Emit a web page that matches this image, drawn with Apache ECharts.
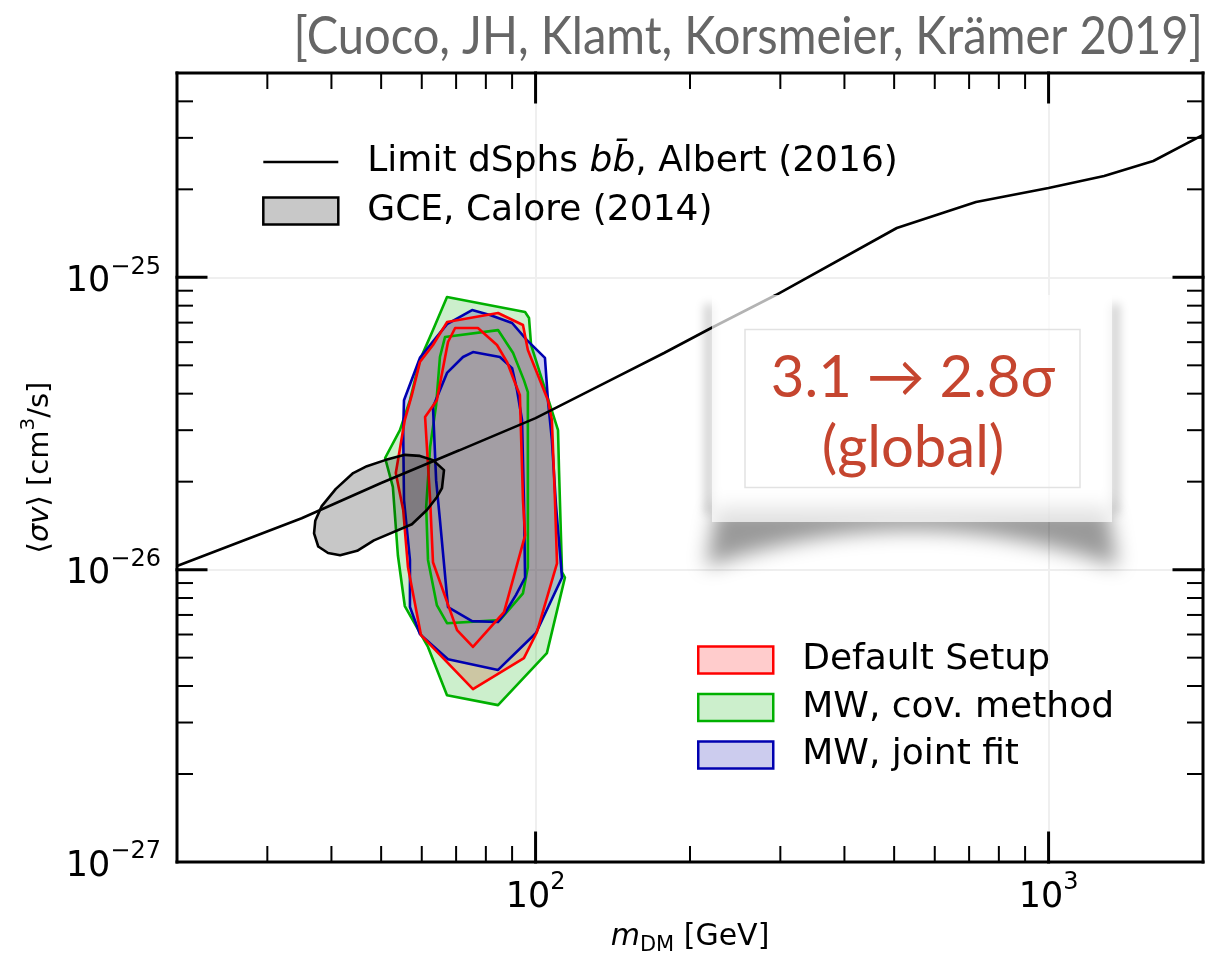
<!DOCTYPE html>
<html>
<head>
<meta charset="utf-8">
<script src="https://cdn.jsdelivr.net/npm/echarts@6/dist/echarts.min.js"></script>
<style>
  html, body { margin: 0; padding: 0; background: #ffffff; }
  #chart { width: 1205px; height: 953px; }
</style>
</head>
<body>
<div id="chart"></div>
<script>
// All <sigma v> values on this chart are given in units of 1e-26 cm^3/s;
// the tick labels convert them back to powers of ten.
const SV_EXP = -26;

// ---- axis ranges ----------------------------------------------------------
const X_MIN = 20, X_MAX = 2000;          // m_DM [GeV]
const Y_MIN = 0.1, Y_MAX = 50;           // <sigma v> [1e-26 cm^3/s]

// ---- ticks ----------------------------------------------------------------
const xMajorTicks = [100, 1000];
const xMinorTicks = [30, 40, 50, 60, 70, 80, 90, 200, 300, 400, 500, 600, 700, 800, 900];
const yMajorTicks = [1, 10];
const yMinorTicks = [0.2, 0.3, 0.4, 0.5, 0.6, 0.7, 0.8, 0.9,
                     2, 3, 4, 5, 6, 7, 8, 9,
                     20, 30, 40];

// ---- dSph upper limit, b bbar (Albert 2016): [m_DM, <sigma v>] -------------
const limitDSphs = [[20, 1.03], [35, 1.50], [50, 1.98], [71, 2.56], [100, 3.30], [140, 4.45],
                    [178, 5.51], [220, 6.71], [294, 8.70], [506, 14.75], [722, 18.1],
                    [1000, 20.2], [1283, 22.2], [1600, 25.0], [2000, 30.7]];

// ---- GCE region (Calore 2014) ---------------------------------------------
const gceCalore = [[50.9, 2.37], [55.6, 2.47], [59.5, 2.45], [63.1, 2.37], [66.3, 2.19],
                   [65.7, 1.90], [64.2, 1.77], [61.4, 1.60], [57.4, 1.43], [48.4, 1.26],
                   [44.9, 1.16], [41.6, 1.12], [39.4, 1.14], [37.7, 1.20], [37.0, 1.33],
                   [37.2, 1.47], [38.3, 1.65], [40.8, 1.89], [44.1, 2.14], [46.9, 2.26]];

// ---- fit contours: outer (2 sigma) and inner (1 sigma) ----------------------
const defaultOuter = [[67.2, 7.03], [84.5, 7.55], [94.5, 6.87], [96.6, 5.64], [105.7, 3.80],
                      [107.6, 3.25], [109.1, 1.73], [110.1, 1.05], [100.6, 0.611], [94.9, 0.498],
                      [75.5, 0.390], [59.8, 0.597], [56.4, 1.02], [55.2, 1.60], [53.4, 2.14],
                      [55.6, 3.25], [57.4, 3.96], [59.5, 5.13], [63.1, 5.87]];
const defaultInner = [[69.7, 6.71], [77.2, 6.71], [84.1, 5.87], [88.0, 5.13], [91.2, 4.35],
                      [93.2, 3.96], [94.5, 1.73], [95.4, 1.31], [86.8, 0.716], [75.5, 0.544],
                      [70.3, 0.621], [63.1, 1.06], [62.3, 1.73], [60.9, 3.33], [64.2, 3.80],
                      [67.5, 6.01]];

const covOuter = [[67.2, 8.56], [95.4, 7.61], [97.1, 7.26], [98.0, 5.87], [106.7, 3.66],
                  [110.6, 3.00], [111.1, 2.19], [112.6, 0.98], [114.1, 0.94], [105.2, 0.518],
                  [84.5, 0.344], [67.2, 0.372], [61.7, 0.544], [55.6, 0.751], [53.9, 1.12],
                  [52.7, 1.92], [50.9, 2.41], [54.4, 3.00], [56.9, 3.80], [59.5, 5.21],
                  [63.1, 6.60]];
const covInner = [[66.6, 6.25], [84.5, 6.60], [90.4, 5.51], [94.9, 4.45], [96.6, 4.05],
                  [96.6, 1.66], [96.6, 1.02], [94.5, 0.83], [85.2, 0.672], [67.2, 0.656],
                  [64.2, 0.757], [61.7, 1.08], [61.2, 1.64], [62.3, 2.63], [64.0, 3.66],
                  [65.1, 5.34]];

const jointOuter = [[75.2, 7.73], [81.5, 7.43], [90.0, 6.98], [96.2, 6.10], [104.3, 5.30],
                    [105.7, 3.80], [107.6, 2.78], [109.6, 1.66], [112.6, 0.94], [100.2, 0.607],
                    [84.5, 0.454], [67.5, 0.494], [59.5, 0.602], [56.9, 0.745], [56.9, 1.08],
                    [55.4, 1.73], [55.2, 3.00], [55.4, 3.80], [59.5, 5.30], [67.2, 6.92]];
const jointInner = [[75.5, 5.55], [85.2, 5.34], [90.0, 4.89], [92.0, 4.12], [94.1, 3.25],
                    [94.9, 1.73], [95.4, 0.94], [91.6, 0.82], [87.2, 0.711], [84.5, 0.662],
                    [75.2, 0.667], [67.5, 0.745], [65.1, 1.48], [64.0, 2.02], [63.1, 3.60],
                    [67.2, 4.71], [72.2, 5.34]];

// ---- names -----------------------------------------------------------------
const LIMIT_NAME = 'Limit dSphs bb\u0304, Albert (2016)';
const GCE_NAME = 'GCE, Calore (2014)';
const DEFAULT_NAME = 'Default Setup';
const COV_NAME = 'MW, cov. method';
const JOINT_NAME = 'MW, joint fit';

const FONT = '"DejaVu Sans", sans-serif';
const SLIDE_FONT = 'Lato, "Noto Sans", "DejaVu Sans", sans-serif';

function contourSeries(name, stroke, fill, outer, inner, lineZ) {
  return {
    type: 'custom', name: name, coordinateSystem: 'cartesian2d', z: 2,
    silent: true, animation: false,
    data: outer,
    itemStyle: { color: fill, borderColor: stroke, borderWidth: 2.5 },
    renderItem: function (params, api) {
      if (params.dataIndex !== 0) return null;
      const o = outer.map(p => api.coord(p));
      const i = inner.map(p => api.coord(p));
      return {
        type: 'group',
        children: [
          { type: 'polygon', z2: 1, shape: { points: o }, style: { fill: fill, stroke: null } },
          { type: 'polygon', z2: lineZ, shape: { points: o },
            style: { fill: null, stroke: stroke, lineWidth: 2.6, lineJoin: 'round' } },
          { type: 'polygon', z2: lineZ, shape: { points: i },
            style: { fill: null, stroke: stroke, lineWidth: 2.6, lineJoin: 'round' } }
        ]
      };
    }
  };
}

function powLabel(exponentShift) {
  return function (v) {
    const e = Math.round(Math.log10(v)) + exponentShift;
    const s = e < 0 ? '\u2212' + (-e) : String(e);
    return '{b|10}{e|' + s + '}';
  };
}
const powRich = {
  b: { fontFamily: FONT, fontSize: 35, lineHeight: 44, verticalAlign: 'bottom', color: '#000' },
  e: { fontFamily: FONT, fontSize: 24, lineHeight: 24, verticalAlign: 'top', color: '#000' }
};

const chart = echarts.init(document.getElementById('chart'), null, { renderer: 'canvas' });

const option = {
  animation: false,
  backgroundColor: '#ffffff',
  grid: {
    left: 177, top: 73, right: 2, bottom: 91,
    show: false, containLabel: false, outerBoundsMode: 'none'
  },
  xAxis: {
    type: 'log', logBase: 10, min: X_MIN, max: X_MAX,
    axisLine: { show: false }, axisTick: { show: false },
    splitLine: { show: true, showMinLine: false, showMaxLine: false,
                 lineStyle: { color: '#efefef', width: 2 } },
    axisLabel: {
      margin: 9, formatter: powLabel(0), rich: powRich,
      showMinLabel: false, showMaxLabel: false
    },
    name: '{i|m}{sub|DM}{t| [GeV]}', nameLocation: 'middle', nameGap: 60,
    nameMoveOverlap: false,
    nameTextStyle: {
      rich: {
        i: { fontFamily: FONT, fontStyle: 'italic', fontSize: 30, lineHeight: 34, verticalAlign: 'top', color: '#000' },
        sub: { fontFamily: FONT, fontSize: 21, lineHeight: 22, verticalAlign: 'bottom', color: '#000' },
        t: { fontFamily: FONT, fontSize: 30, lineHeight: 34, verticalAlign: 'top', color: '#000' }
      }
    }
  },
  yAxis: {
    type: 'log', logBase: 10, min: Y_MIN, max: Y_MAX,
    axisLine: { show: false }, axisTick: { show: false },
    splitLine: { show: true, showMinLine: false, showMaxLine: false,
                 lineStyle: { color: '#efefef', width: 2 } },
    axisLabel: {
      margin: 16, formatter: powLabel(SV_EXP), rich: powRich,
      showMinLabel: true, showMaxLabel: false
    },
    name: '{t|\u27e8}{i|\u03c3v}{t|\u27e9 [cm}{s|3}{t|/s]}', nameLocation: 'middle', nameGap: 122,
    nameRotate: 90, nameMoveOverlap: false,
    nameTextStyle: {
      rich: {
        t: { fontFamily: FONT, fontSize: 29, lineHeight: 36, verticalAlign: 'bottom', color: '#000' },
        i: { fontFamily: FONT, fontStyle: 'italic', fontSize: 29, lineHeight: 36, verticalAlign: 'bottom', color: '#000' },
        s: { fontFamily: FONT, fontSize: 20, lineHeight: 20, verticalAlign: 'top', color: '#000' }
      }
    }
  },
  legend: [
    {
      data: [
        { name: LIMIT_NAME,
          itemStyle: { color: 'rgba(0,0,0,0)', borderColor: 'rgba(0,0,0,0)', borderWidth: 0 },
          lineStyle: { color: '#000', width: 2.6 } },
        { name: GCE_NAME, icon: 'rect',
          itemStyle: { color: '#c8c8c8', borderColor: '#000', borderWidth: 2.5 } }
      ],
      orient: 'vertical', left: 262, top: 144, padding: 0,
      itemWidth: 75, itemHeight: 27, itemGap: 13, selectedMode: false,
      formatter: function (name) {
        if (name === LIMIT_NAME) {
          return '{sp|}{n|Limit dSphs }{i|bb\u0304}{n|, Albert (2016)}';
        }
        return '{sp|}{n|' + name + '}';
      },
      textStyle: {
        rich: {
          sp: { width: 24 },
          n: { fontFamily: FONT, fontSize: 36, lineHeight: 42, color: '#000' },
          i: { fontFamily: FONT, fontStyle: 'italic', fontSize: 36, lineHeight: 42, color: '#000' }
        }
      }
    },
    {
      data: [
        { name: DEFAULT_NAME, icon: 'rect',
          itemStyle: { color: 'rgba(255,0,0,0.2)', borderColor: '#ff0000', borderWidth: 2.5 } },
        { name: COV_NAME, icon: 'rect',
          itemStyle: { color: 'rgba(0,176,0,0.2)', borderColor: '#00b000', borderWidth: 2.5 } },
        { name: JOINT_NAME, icon: 'rect',
          itemStyle: { color: 'rgba(0,0,170,0.2)', borderColor: '#0000b0', borderWidth: 2.5 } }
      ],
      orient: 'vertical', left: 697, top: 642, padding: 0,
      itemWidth: 75, itemHeight: 27, itemGap: 11.5, selectedMode: false,
      formatter: function (name) { return '{sp|}{n|' + name + '}'; },
      textStyle: {
        rich: {
          sp: { width: 24 },
          n: { fontFamily: FONT, fontSize: 36, lineHeight: 42, color: '#000' }
        }
      }
    }
  ],
  series: [
    contourSeries(DEFAULT_NAME, '#ff0000', 'rgba(255,0,0,0.2)', defaultOuter, defaultInner, 13),
    contourSeries(COV_NAME, '#00b000', 'rgba(0,176,0,0.2)', covOuter, covInner, 11),
    contourSeries(JOINT_NAME, '#0000b0', 'rgba(0,0,170,0.2)', jointOuter, jointInner, 12),
    {
      type: 'custom', name: GCE_NAME, coordinateSystem: 'cartesian2d', z: 3,
      silent: true, animation: false,
      data: gceCalore,
      itemStyle: { color: '#c8c8c8', borderColor: '#000', borderWidth: 2.5 },
      renderItem: function (params, api) {
        if (params.dataIndex !== 0) return null;
        return {
          type: 'polygon',
          shape: { points: gceCalore.map(p => api.coord(p)) },
          style: { fill: 'rgba(0,0,0,0.22)', stroke: '#000', lineWidth: 2.6, lineJoin: 'round' }
        };
      }
    },
    {
      type: 'line', name: LIMIT_NAME, z: 4,
      data: limitDSphs,
      symbol: 'none', showSymbol: false, silent: true, animation: false,
      lineStyle: { color: '#000', width: 2.6 },
      itemStyle: { color: '#000' }
    },
    {
      // frame and inward ticks on all four spines
      type: 'custom', name: 'frame', coordinateSystem: 'cartesian2d', z: 5,
      silent: true, animation: false,
      data: [[X_MIN, Y_MIN]],
      renderItem: function (params, api) {
        const kids = [];
        const add = (x1, y1, x2, y2, w) => kids.push({
          type: 'line', shape: { x1: x1, y1: y1, x2: x2, y2: y2 },
          style: { stroke: '#000', lineWidth: w, lineCap: 'square' }
        });
        const xt = (v, len, w) => {
          const b = api.coord([v, Y_MIN]), t = api.coord([v, Y_MAX]);
          add(b[0], b[1], b[0], b[1] - len, w);
          add(t[0], t[1], t[0], t[1] + len, w);
        };
        const yt = (v, len, w) => {
          const l = api.coord([X_MIN, v]), r = api.coord([X_MAX, v]);
          add(l[0], l[1], l[0] + len, l[1], w);
          add(r[0], r[1], r[0] - len, r[1], w);
        };
        xMajorTicks.forEach(v => xt(v, 29, 3));
        xMinorTicks.forEach(v => xt(v, 15, 2));
        yMajorTicks.forEach(v => yt(v, 29, 3));
        yMinorTicks.forEach(v => yt(v, 15, 2));
        const bl = api.coord([X_MIN, Y_MIN]), tr = api.coord([X_MAX, Y_MAX]);
        add(bl[0], bl[1], tr[0], bl[1], 3);
        add(bl[0], tr[1], tr[0], tr[1], 3);
        add(bl[0], bl[1], bl[0], tr[1], 3);
        add(tr[0], bl[1], tr[0], tr[1], 3);
        return { type: 'group', children: kids };
      }
    }
  ],
  graphic: [
    {
      type: 'text', z: 20, x: 1203, y: 37, scaleX: 0.905,
      style: {
        text: '[Cuoco, JH, Klamt, Korsmeier, Kr\u00e4mer 2019]',
        font: '52px ' + SLIDE_FONT, fill: '#666666',
        align: 'right', verticalAlign: 'middle',
        textAlign: 'right', textVerticalAlign: 'middle'
      }
    },
    // curled-paper shadow under the note card
    {
      type: 'polygon', z: 20, x: -3000,
      shape: { points: (function () {
        const pts = [[716, 508], [1108, 508], [1118, 567]];
        for (let k = 1; k < 20; k++) {
          const t = k / 20;
          const px = (1 - t) * (1 - t) * 1118 + 2 * t * (1 - t) * 912 + t * t * 706;
          const py = (1 - t) * (1 - t) * 567 + 2 * t * (1 - t) * 494 + t * t * 567;
          pts.push([px, py]);
        }
        pts.push([706, 567]);
        return pts;
      })() },
      style: { fill: '#000', shadowBlur: 20, shadowColor: 'rgba(0,0,0,0.4)', shadowOffsetX: 3000 }
    },
    {
      type: 'rect', z: 20, x: -3000,
      shape: { x: 704, y: 304, width: 10, height: 210 },
      style: { fill: '#000', shadowBlur: 10, shadowColor: 'rgba(0,0,0,0.18)', shadowOffsetX: 3000 }
    },
    {
      type: 'rect', z: 20, x: -3000,
      shape: { x: 1110, y: 304, width: 10, height: 210 },
      style: { fill: '#000', shadowBlur: 10, shadowColor: 'rgba(0,0,0,0.18)', shadowOffsetX: 3000 }
    },
    {
      type: 'rect', z: 21,
      shape: { x: 712, y: 295, width: 400, height: 227 },
      style: { fill: 'rgba(255,255,255,0.7)' }
    },
    {
      type: 'rect', z: 22,
      shape: { x: 745, y: 329.5, width: 335, height: 158 },
      style: { fill: null, stroke: '#e2e2e2', lineWidth: 1.5 }
    },
    {
      type: 'text', z: 23, x: 913, y: 413,
      style: {
        text: '3.1 \u2192 2.8\u03c3\n(global)',
        font: '58px ' + SLIDE_FONT, fill: '#c5452f', lineHeight: 70,
        align: 'center', verticalAlign: 'middle',
        textAlign: 'center', textVerticalAlign: 'middle'
      }
    }
  ]
};

chart.setOption(option);
</script>
</body>
</html>
